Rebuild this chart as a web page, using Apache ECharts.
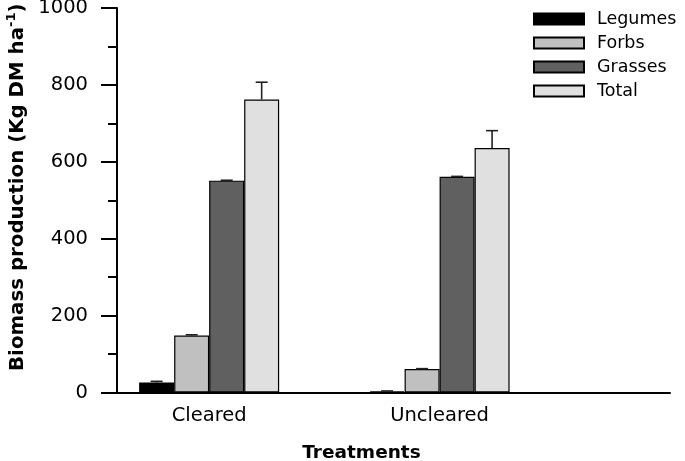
<!DOCTYPE html>
<html>
<head>
<meta charset="utf-8">
<script src="https://cdn.jsdelivr.net/npm/echarts@6/dist/echarts.min.js"></script>
<style>html,body{margin:0;padding:0;background:#fff;}#c{width:685px;height:461px;}</style>
</head>
<body>
<div id="c"></div>
<script>
// ---- data ----
var treatments = ['Cleared', 'Uncleared'];
var seriesNames = ['Legumes', 'Forbs', 'Grasses', 'Total'];
var legumes = [26, 3];
var forbs = [148, 61];
var grasses = [551, 561];
var total = [762, 636];
var legumesErr = [3, 1];
var forbsErr = [2, 1];
var grassesErr = [1, 1];
var totalErr = [45, 45];
var yTicks = [0, 200, 400, 600, 800, 1000];

var values = [legumes, forbs, grasses, total];
var errors = [legumesErr, forbsErr, grassesErr, totalErr];
var colors = ['#000000', '#c0c0c0', '#606060', '#e0e0e0'];
var FONT = 'DejaVu Sans';
var BAR_W = 35;
var GROUP0 = 0.4; // axis units: group i sits at GROUP0 + i

var chart = echarts.init(document.getElementById('c'), null, {renderer: 'canvas'});

var series = [];
seriesNames.forEach(function (name, k) {
  series.push({
    name: name,
    type: 'bar',
    barWidth: BAR_W,
    barGap: '0%',
    itemStyle: {color: colors[k], borderColor: '#000', borderWidth: 1.2},
    emphasis: {disabled: true},
    data: values[k].map(function (v, i) { return [GROUP0 + i, v]; })
  });
});

var errData = [];
seriesNames.forEach(function (name, k) {
  values[k].forEach(function (v, i) {
    errData.push([GROUP0 + i, v, errors[k][i], k]);
  });
});
series.push({
  type: 'custom',
  silent: true,
  z: 5,
  renderItem: function (params, api) {
    var x = api.value(0), y = api.value(1), e = api.value(2), k = api.value(3);
    var off = (k - 1.5) * BAR_W;
    var p0 = api.coord([x, y]);
    var p1 = api.coord([x, y + e]);
    var cx = p0[0] + off;
    var style = {stroke: '#222', lineWidth: 1.6};
    return {
      type: 'group',
      children: [
        {type: 'line', shape: {x1: cx, y1: p0[1], x2: cx, y2: p1[1]}, style: style},
        {type: 'line', shape: {x1: cx - 6, y1: p1[1], x2: cx + 6, y2: p1[1]}, style: style}
      ]
    };
  },
  data: errData
});

chart.setOption({
  animation: false,
  backgroundColor: '#fff',
  textStyle: {fontFamily: FONT, color: '#000'},
  grid: {left: 117, right: 15, top: 8, bottom: 68.5, containLabel: false, outerBoundsMode: 'none'},
  legend: {
    orient: 'vertical',
    left: 533,
    top: 10,
    padding: 0,
    itemWidth: 50,
    itemHeight: 11,
    itemGap: 6,
    icon: 'rect',
    data: seriesNames,
    selectedMode: false,
    textStyle: {fontFamily: FONT, fontSize: 17.5, color: '#000', lineHeight: 18, padding: [0, 0, 0, 8]}
  },
  xAxis: {
    type: 'value',
    min: 0,
    max: 2.4,
    interval: 0.2,
    splitLine: {show: false},
    axisTick: {show: false},
    axisLine: {lineStyle: {color: '#000', width: 2}},
    axisLabel: {
      margin: 13,
      fontFamily: FONT,
      fontSize: 19.5,
      color: '#000',
      formatter: function (v) {
        var i = Math.round(v - GROUP0);
        if (Math.abs(v - GROUP0 - i) < 1e-6 && i >= 0 && i < treatments.length) return treatments[i];
        return '';
      }
    },
    name: 'Treatments',
    nameLocation: 'middle',
    nameGap: 51,
    nameTextStyle: {fontFamily: FONT, fontWeight: 'bold', fontSize: 18.5, color: '#000', padding: [0, 64, 0, 0]}
  },
  yAxis: {
    type: 'value',
    min: yTicks[0],
    max: yTicks[yTicks.length - 1],
    interval: 200,
    splitLine: {show: false},
    axisLine: {show: true, lineStyle: {color: '#000', width: 2}},
    axisTick: {show: true, length: 16, lineStyle: {color: '#000', width: 2}},
    minorTick: {show: true, splitNumber: 2, length: 9, lineStyle: {color: '#000', width: 2}},
    axisLabel: {margin: 29, fontFamily: FONT, fontSize: 19.5, color: '#000', formatter: function (v) { return String(v); }},
    name: '{a|Biomass production (Kg DM ha}{s|-1}{a|)}',
    nameLocation: 'middle',
    nameGap: 87,
    nameTextStyle: {
      padding: [0, 0, 0, 26],
      rich: {
        a: {fontFamily: FONT, fontWeight: 'bold', fontSize: 19.8, color: '#000', lineHeight: 24},
        s: {fontFamily: FONT, fontWeight: 'bold', fontSize: 13, color: '#000', verticalAlign: 'top', lineHeight: 24, padding: [0, 0, 8, 0]}
      }
    }
  },
  series: series
});
</script>
</body>
</html>
